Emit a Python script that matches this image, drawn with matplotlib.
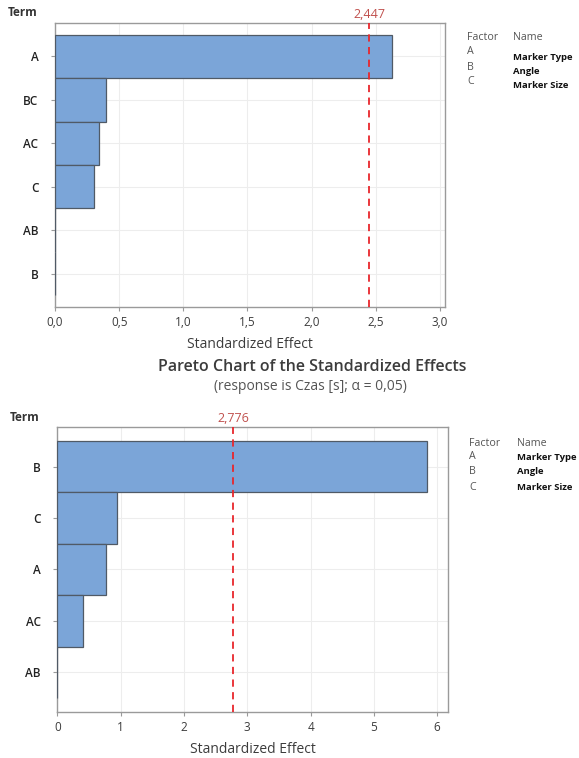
import matplotlib
matplotlib.use("Agg")
import matplotlib.pyplot as plt
from matplotlib.ticker import FuncFormatter

plt.rcParams['font.family'] = ['Open Sans', 'DejaVu Sans']

# ---- data ----
terms_top = ["A", "BC", "AC", "C", "AB", "B"]
effects_top = [2.63, 0.40, 0.34, 0.305, 0.0, 0.0]
crit_top = 2.447
xticks_top = [0.0, 0.5, 1.0, 1.5, 2.0, 2.5, 3.0]

terms_bot = ["B", "C", "A", "AC", "AB"]
effects_bot = [5.84, 0.95, 0.77, 0.40, 0.0]
crit_bot = 2.776
xticks_bot = [0, 1, 2, 3, 4, 5, 6]

factors = ["A", "B", "C"]
names = ["Marker Type", "Angle", "Marker Size"]

BAR = "#7BA5D8"
EDGE = "#505A66"
RED = "#E8262C"
LBLRED = "#C0504D"
SPINE = "#9A9A9A"
TXT = "#3C3C3C"

fig = plt.figure(figsize=(5.79, 7.58), dpi=100)


def draw(ax, terms, effects, crit, xticks, xlim, fmt):
    y = list(range(len(terms)))
    ax.barh(y, effects, height=1.0, color=BAR, edgecolor=EDGE, linewidth=0.9, zorder=3)
    ax.set_ylim(len(terms) - 1 + 0.77, -0.77)
    ax.set_xlim(*xlim)
    ax.set_yticks(y)
    ax.set_yticklabels(terms, fontsize=8.5, color="#222222", fontweight="semibold")
    ax.set_xticks(xticks)
    ax.xaxis.set_major_formatter(FuncFormatter(fmt))
    ax.tick_params(axis='x', labelsize=8.5, colors=SPINE, labelcolor=TXT, length=3, width=0.8)
    ax.tick_params(axis='y', colors=SPINE, labelcolor="#222222", length=3, width=0.8, pad=9)
    ax.grid(True, color="#EDEDED", linewidth=0.8, zorder=0)
    for s in ax.spines.values():
        s.set_color(SPINE)
        s.set_linewidth(1.0)
    ax.axvline(crit, color=RED, linestyle=(0, (4, 3)), linewidth=1.3, zorder=4)
    ax.annotate(f"{crit:.3f}".replace(".", ","), xy=(crit, 1.0),
                xycoords=('data', 'axes fraction'), xytext=(0, 1.5),
                textcoords='offset points', ha='center', va='bottom',
                color=LBLRED, fontsize=9)
    ax.set_xlabel("Standardized Effect", fontsize=10, color=TXT, labelpad=6)


ax1 = fig.add_axes([0.095, 0.595, 0.6736, 0.3747])
draw(ax1, terms_top, effects_top, crit_top, xticks_top, (0, 3.04),
     lambda v, p: f"{v:.1f}".replace(".", ","))

ax2 = fig.add_axes([0.099, 0.0607, 0.6747, 0.376])
draw(ax2, terms_bot, effects_bot, crit_bot, xticks_bot, (0, 6.17),
     lambda v, p: f"{v:.0f}")

W, H = 579, 758


def ft(x, y, s, **kw):
    fig.text(x / W, 1 - y / H, s, **kw)


ft(23, 13, "Term", fontsize=8.5, fontweight="bold", color="#333333", ha="center", va="center")
ft(25, 417, "Term", fontsize=8.5, fontweight="bold", color="#333333", ha="center", va="center")

ft(312, 367, "Pareto Chart of the Standardized Effects", fontsize=11.5, color=TXT,
   ha="center", va="center", fontweight="semibold")
ft(310, 386, "(response is Czas [s]; \u03b1 = 0,05)", fontsize=10, color="#555555",
   ha="center", va="center")

# factor legends
for (fx, nx, y0, ys_f, ys_n) in [(467, 513, 38, [52, 67, 81], [57, 71, 85]),
                                 (469, 517, 443, [456, 472, 487], [458, 472, 487])]:
    ft(fx, y0, "Factor", fontsize=7.7, color="#555555", va="center")
    ft(nx, y0, "Name", fontsize=7.7, color="#555555", va="center")
    for f, n, yf, yn in zip(factors, names, ys_f, ys_n):
        ft(fx, yf, f, fontsize=7.7, color="#555555", va="center")
        ft(nx, yn, n, fontsize=6.8, color="#111111", fontweight="bold", va="center")

fig.savefig("out.png", dpi=100)
